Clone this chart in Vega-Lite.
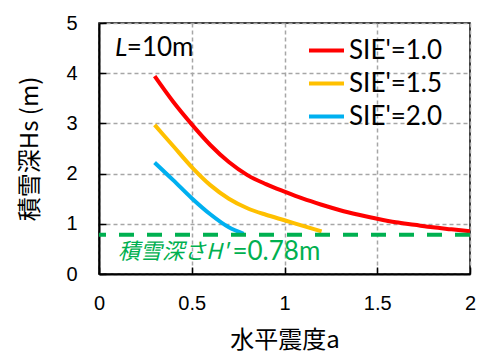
{
  "$schema": "https://vega.github.io/schema/vega-lite/v6.json",
  "width": 371,
  "height": 251,
  "autosize": "none",
  "padding": {"left": 99, "top": 23, "right": 9, "bottom": 80},
  "config": {
    "view": {"stroke": "black", "strokeWidth": 1.5},
    "font": "Liberation Sans"
  },
  "datasets": {
    "curves": [
      {"series": "SIE'=1.0", "a": 0.3, "Hs": 3.94},
      {"series": "SIE'=1.0", "a": 0.4, "Hs": 3.43},
      {"series": "SIE'=1.0", "a": 0.5, "Hs": 2.98},
      {"series": "SIE'=1.0", "a": 0.6, "Hs": 2.57},
      {"series": "SIE'=1.0", "a": 0.7, "Hs": 2.23},
      {"series": "SIE'=1.0", "a": 0.8, "Hs": 1.97},
      {"series": "SIE'=1.0", "a": 0.9, "Hs": 1.79},
      {"series": "SIE'=1.0", "a": 1.0, "Hs": 1.64},
      {"series": "SIE'=1.0", "a": 1.1, "Hs": 1.5},
      {"series": "SIE'=1.0", "a": 1.2, "Hs": 1.38},
      {"series": "SIE'=1.0", "a": 1.3, "Hs": 1.27},
      {"series": "SIE'=1.0", "a": 1.4, "Hs": 1.18},
      {"series": "SIE'=1.0", "a": 1.5, "Hs": 1.1},
      {"series": "SIE'=1.0", "a": 1.6, "Hs": 1.03},
      {"series": "SIE'=1.0", "a": 1.7, "Hs": 0.98},
      {"series": "SIE'=1.0", "a": 1.8, "Hs": 0.93},
      {"series": "SIE'=1.0", "a": 1.9, "Hs": 0.89},
      {"series": "SIE'=1.0", "a": 2.0, "Hs": 0.85},
      {"series": "SIE'=1.5", "a": 0.3, "Hs": 2.97},
      {"series": "SIE'=1.5", "a": 0.4, "Hs": 2.55},
      {"series": "SIE'=1.5", "a": 0.5, "Hs": 2.13},
      {"series": "SIE'=1.5", "a": 0.6, "Hs": 1.77},
      {"series": "SIE'=1.5", "a": 0.7, "Hs": 1.5},
      {"series": "SIE'=1.5", "a": 0.8, "Hs": 1.31},
      {"series": "SIE'=1.5", "a": 0.9, "Hs": 1.18},
      {"series": "SIE'=1.5", "a": 1.0, "Hs": 1.07},
      {"series": "SIE'=1.5", "a": 1.1, "Hs": 0.96},
      {"series": "SIE'=1.5", "a": 1.2, "Hs": 0.85},
      {"series": "SIE'=2.0", "a": 0.3, "Hs": 2.22},
      {"series": "SIE'=2.0", "a": 0.4, "Hs": 1.87},
      {"series": "SIE'=2.0", "a": 0.5, "Hs": 1.51},
      {"series": "SIE'=2.0", "a": 0.6, "Hs": 1.19},
      {"series": "SIE'=2.0", "a": 0.7, "Hs": 0.93},
      {"series": "SIE'=2.0", "a": 0.78, "Hs": 0.8}
    ],
    "snow": [{"Hs": 0.78}],
    "labelL": [{"a": 0.086, "Hs": 4.5, "t": "L"}],
    "labelL2": [{"a": 0.15, "Hs": 4.5, "t": "=10m"}],
    "labelH1": [{"a": 0.103, "Hs": 0.44, "t": "積雪深さH'"}],
    "labelH2": [{"a": 1.193, "Hs": 0.44, "t": "=0.78m"}]
  },
  "layer": [
    {
      "data": {"name": "curves"},
      "mark": {"type": "line", "strokeWidth": 4, "interpolate": "monotone"},
      "encoding": {
        "x": {
          "field": "a", "type": "quantitative",
          "scale": {"domain": [0, 2], "nice": false},
          "axis": {
            "values": [0, 0.5, 1, 1.5, 2],
            "format": "~g",
            "title": "水平震度a",
            "titleFont": "Noto Sans CJK JP",
            "titleFontSize": 24,
            "titleFontWeight": "normal",
            "titleColor": "black",
            "titlePadding": 15,
            "labelFontSize": 20,
            "labelColor": "black",
            "labelFlush": false,
            "labelPadding": 26,
            "tickSize": -7,
            "tickColor": "black",
            "tickWidth": 1.5,
            "domainColor": "black",
            "domainWidth": 2,
            "grid": true,
            "gridColor": "#A6A6A6",
            "gridDash": [4, 3],
            "gridWidth": 1.5,
            "gridOpacity": 1
          }
        },
        "y": {
          "field": "Hs", "type": "quantitative",
          "scale": {"domain": [0, 5], "nice": false},
          "axis": {
            "values": [0, 0.5, 1, 1.5, 2, 2.5, 3, 3.5, 4, 4.5, 5],
            "labelExpr": "datum.value % 1 === 0 ? format(datum.value, 'd') : ''",
            "title": "積雪深Hs (m)",
            "titleFont": "Noto Sans CJK JP",
            "titleFontSize": 24,
            "titleFontWeight": "normal",
            "titleColor": "black",
            "titlePadding": 23,
            "labelFontSize": 20,
            "labelColor": "black",
            "labelFlush": false,
            "labelPadding": 29,
            "tickSize": -7,
            "tickColor": "black",
            "tickWidth": 1.5,
            "domainColor": "black",
            "domainWidth": 2,
            "grid": true,
            "gridColor": "#A6A6A6",
            "gridDash": [4, 3],
            "gridWidth": 1.5,
            "gridOpacity": {"condition": {"test": "datum.value % 1 !== 0", "value": 0}, "value": 1}
          }
        },
        "color": {
          "field": "series", "type": "nominal",
          "scale": {"domain": ["SIE'=1.0", "SIE'=1.5", "SIE'=2.0"], "range": ["#FF0000", "#FFC000", "#00B0F0"]},
          "legend": {
            "orient": "none",
            "legendX": 208,
            "legendY": 8,
            "title": null,
            "symbolType": "stroke",
            "symbolSize": 1225,
            "symbolStrokeWidth": 4,
            "labelFont": "Lato",
            "labelFontSize": 26,
            "labelColor": "black",
            "labelOffset": 3,
            "rowPadding": 0,
            "padding": 0
          }
        }
      }
    },
    {
      "data": {"name": "snow"},
      "mark": {"type": "rule", "color": "#00B050", "strokeWidth": 4, "strokeDash": [15, 13]},
      "encoding": {"y": {"field": "Hs", "type": "quantitative"}}
    },
    {
      "data": {"name": "labelL"},
      "mark": {"type": "text", "align": "left", "baseline": "middle", "font": "Lato", "fontSize": 26, "fontStyle": "italic", "color": "black"},
      "encoding": {"x": {"field": "a", "type": "quantitative"}, "y": {"field": "Hs", "type": "quantitative"}, "text": {"field": "t"}}
    },
    {
      "data": {"name": "labelL2"},
      "mark": {"type": "text", "align": "left", "baseline": "middle", "font": "Lato", "fontSize": 26, "color": "black"},
      "encoding": {"x": {"field": "a", "type": "quantitative"}, "y": {"field": "Hs", "type": "quantitative"}, "text": {"field": "t"}}
    },
    {
      "data": {"name": "labelH1"},
      "mark": {"type": "text", "align": "left", "baseline": "middle", "font": "Noto Sans CJK JP", "fontSize": 22, "fontStyle": "italic", "color": "#00B050"},
      "encoding": {"x": {"field": "a", "type": "quantitative"}, "y": {"field": "Hs", "type": "quantitative"}, "text": {"field": "t"}}
    },
    {
      "data": {"name": "labelH2"},
      "mark": {"type": "text", "align": "right", "baseline": "middle", "font": "Lato", "fontSize": 26, "color": "#00B050"},
      "encoding": {"x": {"field": "a", "type": "quantitative"}, "y": {"field": "Hs", "type": "quantitative"}, "text": {"field": "t"}}
    }
  ]
}
